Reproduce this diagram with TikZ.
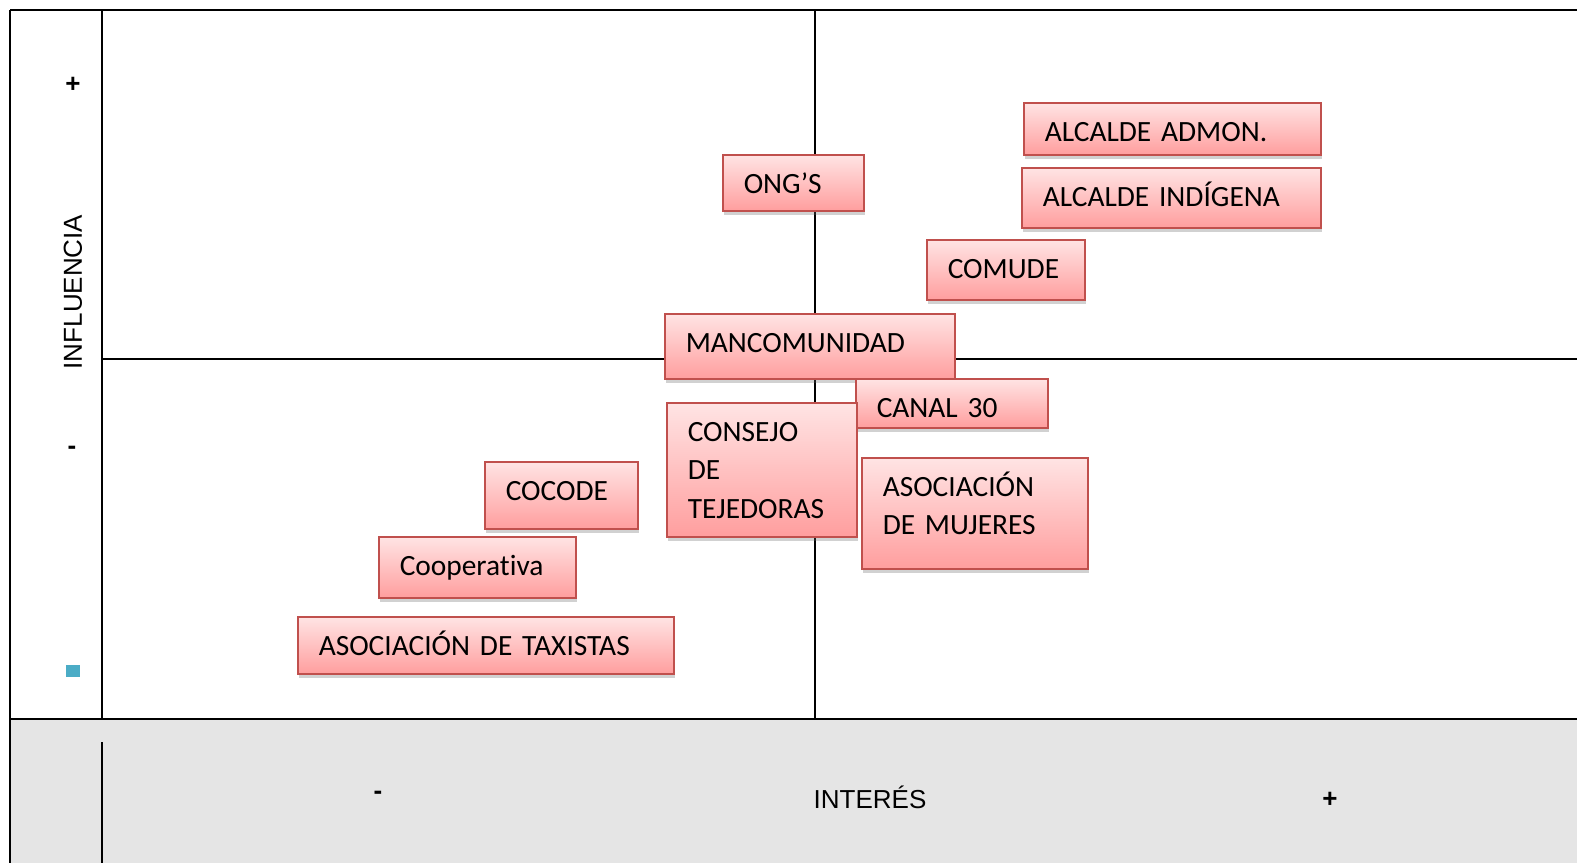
\documentclass[tikz,border=0pt]{standalone}
\usepackage{fontspec}
\setmainfont{Carlito}[Ligatures=NoCommon, WordSpace=0.9]
\newfontfamily\axisfont{Liberation Sans}
\usetikzlibrary{shadows}
\definecolor{boxedge}{RGB}{192,80,77}
\definecolor{boxtop}{RGB}{255,228,228}
\definecolor{boxbottom}{RGB}{255,158,158}
\definecolor{bandgray}{RGB}{229,229,229}
\definecolor{markblue}{RGB}{75,172,198}

\begin{document}
\begin{tikzpicture}[x=1pt, y=-1pt, line width=2pt,
    actor/.style={draw=boxedge, line width=1.5pt, top color=boxtop, bottom color=boxbottom,
      anchor=north west, inner xsep=21pt, inner ysep=0pt, align=left, text height=38.7pt,
      font=\fontsize{29.4}{38.5}\selectfont,
      drop shadow={shadow xshift=1pt, shadow yshift=-4pt, opacity=0.3, fill=black!60}},
    axislabel/.style={font=\axisfont\fontsize{26}{30}\selectfont},
    sign/.style={font=\axisfont\bfseries\fontsize{26}{30}\selectfont}]
    \useasboundingbox (0,0) rectangle (1577,863);

    % band under the chart
    \fill[bandgray] (10,719) rectangle (1577,863);

    % grid
    \draw (10,10) -- (1577,10);
    \draw (10,10) -- (10,863);
    \draw (102,10) -- (102,719);
    \draw (102,742) -- (102,863);
    \draw (102,359) -- (1577,359);
    \draw (815,10) -- (815,719);
    \draw (10,719) -- (1577,719);

    % axes
    \node[sign] (infplus) at (73,85) {+};
    \node[sign] (infminus) at (72,450) {-};
    \fill[markblue] (66,665) rectangle (80,677);
    \node[axislabel, rotate=90] (influencia) at (73,292) {INFLUENCIA};
    \node[axislabel] (interes) at (870,797) {INTERÉS};
    \node[sign] (intminus) at (378,795) {-};
    \node[sign] (intplus) at (1330,800) {+};

    % actors (top of box to first baseline is fixed)
    \node[actor, minimum width=297pt, text depth=13.3pt, text width=255pt] (alcaldeadmon) at (1023,102) {ALCALDE ADMON.};
    \node[actor, minimum width=299pt, text depth=21.3pt, text width=257pt] (alcaldeind) at (1021,167) {ALCALDE INDÍGENA};
    \node[actor, minimum width=141pt, text depth=17.3pt, text width=99pt] (ongs) at (722,154) {ONG’S};
    \node[actor, minimum width=158pt, text depth=21.3pt, text width=116pt] (comude) at (926,239) {COMUDE};
    \node[actor, minimum width=290pt, text depth=26.3pt, text width=248pt] (mancom) at (664,313) {MANCOMUNIDAD};
    \node[actor, minimum width=192pt, text depth=10.3pt, text width=150pt] (canal) at (855,378) {CANAL 30};
    \node[actor, minimum width=190pt, text depth=95.3pt, text width=148pt] (consejo) at (666,402) {CONSEJO\\DE\\TEJEDORAS};
    \node[actor, minimum width=226pt, text depth=72.3pt, text width=184pt] (mujeres) at (861,457) {ASOCIACIÓN\\DE MUJERES};
    \node[actor, minimum width=153pt, text depth=28.3pt, text width=111pt] (cocode) at (484,461) {COCODE};
    \node[actor, minimum width=197pt, text depth=22.3pt, text width=155pt] (coop) at (378,536) {Cooperativa};
    \node[actor, minimum width=376pt, text depth=18.3pt, text width=334pt] (taxistas) at (297,616) {ASOCIACIÓN DE TAXISTAS};
\end{tikzpicture}
\end{document}
